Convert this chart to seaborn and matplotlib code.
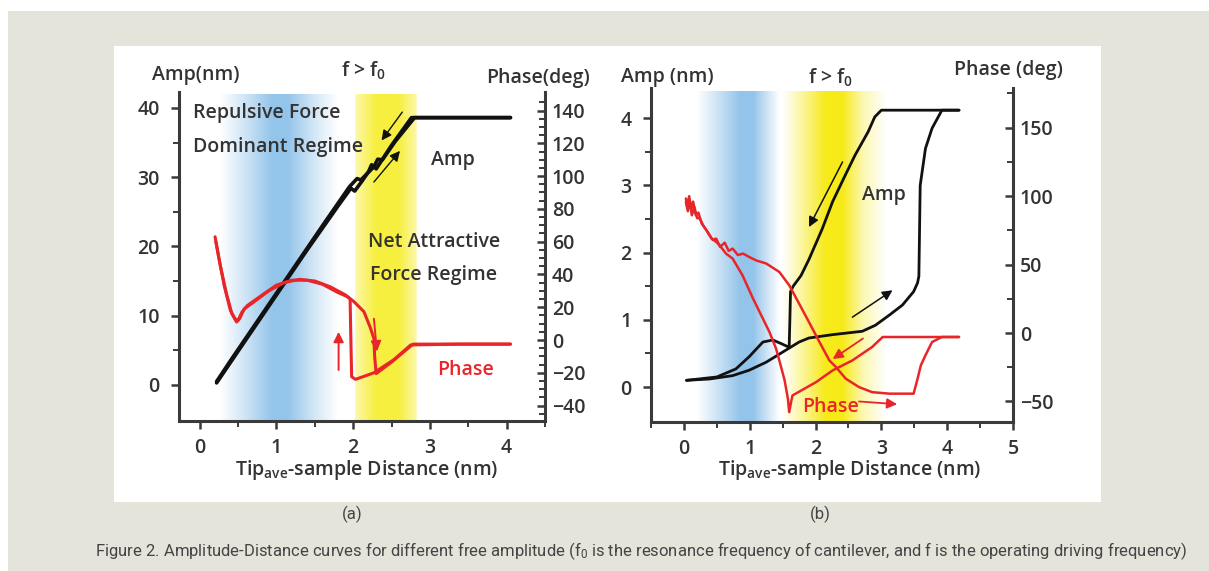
import numpy as np
import pandas as pd
import matplotlib
matplotlib.use("Agg")
import matplotlib.pyplot as plt
from matplotlib import font_manager
from matplotlib.patches import Rectangle
import seaborn as sns

# ---------------- data : panel (a) ----------------
a_amp_approach_x = [0.22, 0.60, 1.00, 1.40, 1.80, 1.97, 2.02, 2.12, 2.20, 2.24, 2.30, 2.50, 2.76, 3.40, 4.05]
a_amp_approach_y = [0.3, 6.5, 13.0, 19.5, 25.8, 28.4, 28.0, 29.5, 30.8, 31.8, 31.2, 34.6, 38.6, 38.6, 38.6]
a_amp_retract_x = [4.05, 3.40, 2.80, 2.55, 2.38, 2.32, 2.27, 2.10, 2.05, 1.95, 1.60, 1.20, 0.80, 0.40, 0.22]
a_amp_retract_y = [38.6, 38.6, 38.6, 35.2, 32.5, 32.6, 31.5, 29.6, 29.8, 28.6, 23.0, 16.5, 10.0, 3.5, 0.5]

a_ph_b1_x = [0.20, 0.25, 0.32, 0.40, 0.46, 0.50, 0.55, 0.62, 0.80, 1.00, 1.20, 1.40, 1.60, 1.80, 1.92, 1.96, 1.97, 1.98, 2.03, 2.27, 2.53, 2.75, 3.40, 4.05]
a_ph_b1_y = [63.0, 50.0, 33.0, 18.0, 13.0, 12.0, 17.0, 21.0, 27.0, 33.5, 36.5, 36.5, 34.0, 29.0, 26.5, 25.0, 0.0, -22.4, -24.0, -20.0, -12.0, -3.0, -2.5, -2.5]
a_ph_b2_x = [0.21, 0.27, 0.35, 0.42, 0.48, 0.52, 0.58, 0.70, 0.90, 1.10, 1.30, 1.50, 1.70, 1.90, 2.01, 2.14, 2.22, 2.27, 2.28, 2.30, 2.50, 2.78, 3.40, 4.05]
a_ph_b2_y = [60.0, 45.0, 28.0, 16.0, 11.0, 13.0, 19.0, 23.0, 30.0, 35.0, 37.0, 36.0, 32.5, 27.5, 23.4, 17.3, 8.0, 1.0, -10.0, -20.5, -13.5, -2.5, -2.5, -2.5]

a_xticks = [0, 1, 2, 3, 4]
a_amp_ticks = [0, 10, 20, 30, 40]
a_ph_ticks = [-40, -20, 0, 20, 40, 60, 80, 100, 120, 140]

# ---------------- data : panel (b) ----------------
b_amp_approach_x = [0.04, 0.39, 0.74, 0.99, 1.25, 1.50, 1.75, 1.90, 2.26, 2.71, 2.91, 3.12, 3.32, 3.49, 3.55, 3.57, 3.59, 3.67, 3.77, 3.92, 4.18]
b_amp_approach_y = [0.10, 0.12, 0.17, 0.25, 0.37, 0.52, 0.67, 0.73, 0.78, 0.83, 0.92, 1.07, 1.22, 1.42, 1.55, 1.65, 3.00, 3.55, 3.85, 4.12, 4.12]
b_amp_retract_x = [4.18, 3.92, 3.00, 2.90, 2.80, 2.60, 2.45, 2.26, 2.10, 1.90, 1.78, 1.66, 1.62, 1.61, 1.60, 1.58, 1.47, 1.35, 1.20, 0.99, 0.79, 0.50, 0.04]
b_amp_retract_y = [4.12, 4.12, 4.12, 4.02, 3.80, 3.45, 3.15, 2.76, 2.35, 1.90, 1.66, 1.50, 1.42, 1.00, 0.62, 0.60, 0.65, 0.70, 0.67, 0.45, 0.27, 0.15, 0.10]

b_ph_b1_x = [0.03, 0.06, 0.09, 0.12, 0.16, 0.20, 0.24, 0.30, 0.36, 0.42, 0.49, 0.56, 0.64, 0.74, 0.89, 1.05, 1.20, 1.30, 1.40, 1.47, 1.53, 1.58, 1.60, 1.63, 1.65, 2.01, 2.26, 2.56, 2.86, 3.02, 3.92, 4.18]
b_ph_b1_y = [95.8, 89.0, 97.0, 86.0, 92.0, 84.0, 83.7, 78.0, 74.0, 69.0, 66.6, 63.0, 58.0, 54.4, 42.2, 25.2, 10.5, 0.7, -11.4, -23.6, -34.6, -48.0, -57.8, -50.0, -45.6, -35.8, -27.3, -20.0, -10.2, -2.9, -2.9, -2.9]
b_ph_b2_x = [0.03, 0.05, 0.08, 0.11, 0.14, 0.18, 0.22, 0.27, 0.33, 0.38, 0.44, 0.49, 0.55, 0.62, 0.68, 0.74, 0.82, 0.90, 0.99, 1.10, 1.25, 1.45, 1.60, 1.75, 1.90, 2.06, 2.21, 2.31, 2.46, 2.66, 2.86, 3.12, 3.49, 3.55, 3.60, 3.67, 3.77, 3.92, 4.18]
b_ph_b2_y = [98.3, 92.0, 100.0, 90.0, 96.0, 86.0, 88.0, 80.0, 76.0, 72.0, 68.0, 69.0, 63.0, 66.0, 60.0, 61.7, 57.0, 58.0, 55.6, 53.0, 50.8, 44.6, 34.9, 21.5, 8.0, -6.6, -20.0, -24.9, -33.4, -39.5, -43.2, -44.3, -44.3, -33.4, -23.6, -16.3, -6.6, -2.9, -2.9]

b_xticks = [0, 1, 2, 3, 4, 5]
b_amp_ticks = [0, 1, 2, 3, 4]
b_ph_ticks = [-50, 0, 50, 100, 150]

caption = ("Figure 2. Amplitude-Distance curves for different free amplitude "
           r"(f$_\mathregular{0}$ is the resonance frequency of cantilever, and f is the operating driving frequency)")

# ---------------- style ----------------
W, H = 1209, 571
BEIGE = "#e4e4da"
RED = "#e8262a"
BLK = "#111111"
TXT = "#333333"
SPINE = "#3a3a3a"
WEIGHT = "semibold"
FONT = "Open Sans"

sns.set_theme(style="white")
plt.rcParams["font.family"] = [FONT, "DejaVu Sans"]
plt.rcParams["mathtext.fontset"] = "custom"
plt.rcParams["mathtext.rm"] = FONT + ":semibold"
plt.rcParams["mathtext.it"] = FONT + ":italic"
plt.rcParams["mathtext.bf"] = FONT + ":bold"

names = {f.name for f in font_manager.fontManager.ttflist}
cap_font = "Liberation Sans Narrow" if "Liberation Sans Narrow" in names else "Roboto"

fig = plt.figure(figsize=(W / 100, H / 100), dpi=100)
fig.patch.set_facecolor("white")


def frect(x0, y0, x1, y1):
    return (x0 / W, 1 - y1 / H), (x1 - x0) / W, (y1 - y0) / H


for (x0, y0, x1, y1, c) in [(8, 11, W, H, BEIGE), (114, 46, 1101, 502, "white")]:
    xy, w, h = frect(x0, y0, x1, y1)
    fig.patches.append(Rectangle(xy, w, h, transform=fig.transFigure, facecolor=c, edgecolor="none", zorder=-10))


def axrect(x0, y0, x1, y1):
    return [x0 / W, 1 - y1 / H, (x1 - x0) / W, (y1 - y0) / H]


def band(ax, xs, alphas, rgb, y0, y1):
    grid = np.linspace(xs[0], xs[-1], 500)
    a = np.interp(grid, xs, alphas)
    img = np.zeros((1, grid.size, 4))
    img[..., 0], img[..., 1], img[..., 2] = rgb
    img[..., 3] = a
    ax.imshow(img, extent=[xs[0], xs[-1], y0, y1], aspect="auto",
              interpolation="bilinear", zorder=0, clip_on=False)


def line(ax, x, y, color, lw):
    sns.lineplot(x=x, y=y, ax=ax, sort=False, estimator=None, color=color, lw=lw, zorder=5)


def arrow(ax, start, end, color, lw=1.2, ms=14):
    ax.annotate("", xy=end, xytext=start,
                arrowprops=dict(arrowstyle="-|>", color=color, lw=lw, mutation_scale=ms,
                                shrinkA=0, shrinkB=0), zorder=8)


def style_axes(ax, ax2, xlim, ylim, ylim2, xt, xminor, yt, yminor, y2t, y2minor):
    ax.set_xlim(*xlim)
    ax.set_ylim(*ylim)
    ax2.set_ylim(*ylim2)
    ax.set_xticks(xt)
    ax.set_xticks(xminor, minor=True)
    ax.set_yticks(yt)
    ax.set_yticks(yminor, minor=True)
    ax2.set_yticks(y2t)
    ax2.set_yticks(y2minor, minor=True)
    ax.set_xlabel("")
    ax.set_ylabel("")
    ax2.set_ylabel("")
    for a in (ax, ax2):
        a.set_facecolor("none")
        a.grid(False)
        for s in a.spines.values():
            s.set_visible(False)
    ax.spines["left"].set_visible(True)
    ax.spines["bottom"].set_visible(True)
    ax2.spines["right"].set_visible(True)
    for s in (ax.spines["left"], ax.spines["bottom"], ax2.spines["right"]):
        s.set_color(SPINE)
        s.set_linewidth(2.2)
    ax.tick_params(axis="both", which="major", direction="out", length=6, width=1.8,
                   color=SPINE, labelsize=14, labelcolor=TXT, left=True, bottom=True)
    ax.tick_params(axis="both", which="minor", direction="out", length=4.5, width=1.4,
                   color=SPINE, left=True, bottom=True)
    ax.tick_params(axis="x", which="major", pad=6)
    ax.tick_params(axis="y", which="major", pad=8)
    ax2.tick_params(axis="y", which="major", direction="in", length=6, width=1.8,
                    color=SPINE, labelsize=14, labelcolor=TXT, right=True, pad=5)
    ax2.tick_params(axis="y", which="minor", direction="in", length=4.5, width=1.4,
                    color=SPINE, right=True)
    for lab in ax.get_xticklabels() + ax.get_yticklabels() + ax2.get_yticklabels():
        lab.set_fontweight(WEIGHT)


def ftext(px, py, s, size=14, color=TXT, ha="center", weight=WEIGHT, **kw):
    fig.text(px / W, 1 - py / H, s, fontsize=size, color=color, ha=ha, va="center",
             fontweight=weight, **kw)


# ================= panel (a) =================
axA = fig.add_axes(axrect(179, 92, 545, 421))
axA2 = axA.twinx()
A_YLIM = (-5.2, 42.3)
A_Y2LIM = (-49.4, 151.3)
A_XLIM = (-0.27, 4.5)

band(axA, [0.27, 0.6, 0.95, 1.15, 1.5, 1.8], [0, 0.45, 1, 1, 0.4, 0], (0.58, 0.77, 0.92), A_YLIM[0], 42.0)
band(axA, [2.03, 2.035, 2.3, 2.6, 2.825, 2.83], [0.0, 0.45, 1.0, 1.0, 0.45, 0.0], (0.97, 0.94, 0.25), A_YLIM[0], 42.0)

line(axA, a_amp_approach_x, a_amp_approach_y, BLK, 2.6)
line(axA, a_amp_retract_x, a_amp_retract_y, BLK, 2.6)
line(axA2, a_ph_b1_x, a_ph_b1_y, RED, 2.2)
line(axA2, a_ph_b2_x, a_ph_b2_y, RED, 2.2)

arrow(axA, (2.64, 39.4), (2.37, 35.3), BLK, lw=1.0, ms=15)
arrow(axA, (2.27, 29.3), (2.61, 33.8), BLK, lw=1.0, ms=15)
arrow(axA2, (1.81, -18.3), (1.81, 5.0), RED, lw=1.4, ms=15)
arrow(axA2, (2.27, 13.0), (2.31, -7.0), RED, lw=1.4, ms=15)

style_axes(axA, axA2, A_XLIM, A_YLIM, A_Y2LIM, a_xticks, [0.5, 1.5, 2.5, 3.5, 4.5],
           a_amp_ticks, [5, 15, 25, 35], a_ph_ticks, list(range(-45, 150, 5)))

ftext(196, 75, "Amp(nm)")
ftext(363, 70, r"f > f$_\mathregular{0}$")
ftext(538, 78, "Phase(deg)")
ftext(193, 113, "Repulsive Force", ha="left", size=14)
ftext(193, 147, "Dominant Regime", ha="left", size=14)
ftext(453, 160, "Amp", size=14)
ftext(434, 242, "Net Attractive", size=14)
ftext(434, 275, "Force Regime", size=14)
ftext(466, 370, "Phase", color=RED, size=14)
ftext(367, 470, r"Tip$_\mathregular{ave}$-sample Distance (nm)", size=14)

# ================= panel (b) =================
axB = fig.add_axes(axrect(651, 88, 1013, 422))
axB2 = axB.twinx()
B_YLIM = (-0.52, 4.45)
B_Y2LIM = (-65.0, 179.0)
B_XLIM = (-0.5, 5.0)

band(axB, [0.2, 0.5, 0.85, 1.05, 1.3, 1.45], [0, 0.45, 1, 1, 0.35, 0], (0.58, 0.77, 0.92), B_YLIM[0], 4.40)
band(axB, [1.5, 1.8, 2.15, 2.4, 2.7, 3.05], [0, 0.45, 1, 1, 0.35, 0], (0.97, 0.92, 0.10), B_YLIM[0], 4.40)

line(axB, b_amp_approach_x, b_amp_approach_y, BLK, 2.0)
line(axB, b_amp_retract_x, b_amp_retract_y, BLK, 2.0)
line(axB2, b_ph_b1_x, b_ph_b1_y, RED, 1.8)
line(axB2, b_ph_b2_x, b_ph_b2_y, RED, 1.8)

arrow(axB, (2.41, 3.35), (1.90, 2.38), BLK, lw=1.1, ms=15)
arrow(axB, (2.56, 1.04), (3.17, 1.44), BLK, lw=1.1, ms=15)
arrow(axB2, (2.72, -4.0), (2.26, -19.0), RED, lw=1.3, ms=15)
arrow(axB2, (2.66, -50.0), (3.24, -52.0), RED, lw=1.3, ms=15)

style_axes(axB, axB2, B_XLIM, B_YLIM, B_Y2LIM, b_xticks, [-0.5, 0.5, 1.5, 2.5, 3.5, 4.5],
           b_amp_ticks, [0.5, 1.5, 2.5, 3.5], b_ph_ticks, [-25, 25, 75, 125, 175])

ftext(667, 77, "Amp (nm)")
ftext(830, 77, r"f > f$_\mathregular{0}$")
ftext(1008, 70, "Phase (deg)")
ftext(884, 195, "Amp", size=14)
ftext(831, 407, "Phase", color=RED, size=14)
ftext(850, 470, r"Tip$_\mathregular{ave}$-sample Distance (nm)", size=14)

# ================= captions =================
capkw = dict(color="#444444", weight="normal", family=[cap_font, "DejaVu Sans"])
ftext(352, 514, "(a)", size=12, **capkw)
ftext(820, 514, "(b)", size=12, **capkw)
ftext(641, 551, caption, size=12, **capkw)

fig.savefig("out.png", dpi=100, facecolor=fig.get_facecolor())
